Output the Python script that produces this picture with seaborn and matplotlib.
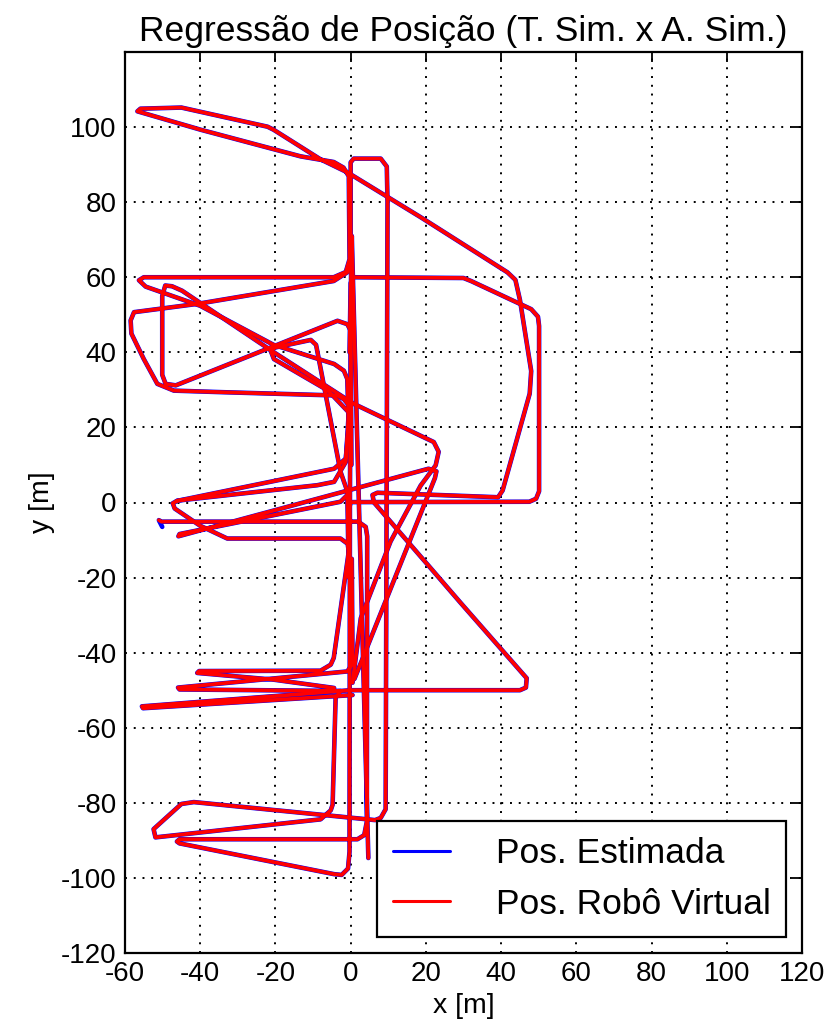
import numpy as np
import pandas as pd
import matplotlib
matplotlib.use("Agg")
import matplotlib.pyplot as plt
from matplotlib.lines import Line2D
import seaborn as sns

# trajectory, split into strokes (x, y in metres)
top_x = [-0.5, -0.9, -1.8, -4.4, -20.5, -40.0, -54.5, -56.3, -55.0, -4.5, -1.3, -0.3, -0.5, -1.9, -4.5,
         -13.3, -39.9, -56.7, -55.9, -45.0, -22.1, -20.5, -8.0, -0.8, 18.6, 41.7, 43.8, 45.0, 48.0, 47.6,
         40.4, 39.2, 7.1, 5.8, 6.2, 29.3, 46.8, 46.6, 45.0, 0.0, -55.5, -55.2, 0.5]
top_y = [20.0, 32.9, 35.1, 36.9, 42.0, 52.4, 57.5, 59.2, 60.0, 60.0, 61.4, 64.8, 86.9, 89.2, 90.7,
         92.2, 99.3, 104.2, 104.9, 105.2, 100.1, 99.3, 91.4, 87.9, 76.0, 61.3, 59.3, 54.0, 35.0, 29.0,
         3.2, 1.4, 2.6, 2.0, 0.0, -26.8, -46.8, -49.3, -50.0, -50.0, -54.3, -54.8, -51.3]

box_x = [-4.4, -20.4, -40.8, -40.3, -8.0, -5.3, -4.5, -0.5, -0.8, -2.7, -32.8, -40.0, -46.8, -47.3, -46.0,
         -8.9, -4.4, -1.3, -0.4, -1.8, -3.5, -34.6, -47.0, -51.4, -55.0, -58.3, -58.5, -57.6, -40.8, -4.5,
         -0.9, 0.0, 0.0, 0.8, 8.0, 9.6, 9.8, 9.3, 8.0, 6.5, -41.7, -45.0, -52.4, -51.9, -8.0, -5.3, -4.8,
         -4.0, -2.7, -45.5, -45.9, -0.9, 0.5, 0.3]
box_y = [-49.4, -47.2, -45.4, -44.9, -44.8, -43.2, -41.4, -13.0, -11.0, -9.6, -9.6, -6.2, -1.6, -0.2, 0.5,
         4.6, 5.5, 10.8, 25.8, 27.5, 28.5, 29.4, 29.8, 31.6, 38.2, 45.0, 48.5, 50.7, 52.9, 59.0,
         61.3, 63.0, 90.6, 91.6, 91.6, 89.5, 80.0, -81.7, -84.0, -84.6, -79.8, -80.3, -87.0, -89.2, -84.4, -82.0, -80.5,
         -52.0, -50.2, -49.8, -49.3, -45.0, -43.0, -15.0]

low_x = [-51.0, -50.3, 2.0, 4.0, 4.4, 4.3, 3.6, 1.8, -45.5, -46.2, -45.5, -4.4, -2.4, -0.7, -0.3,
         -0.2, 0.1, 0.3, 4.7]
low_y = [-4.7, -5.1, -5.1, -6.5, -9.0, -85.0, -88.6, -89.7, -89.7, -90.3, -90.8, -99.0, -99.2, -97.5, -93.0,
         0.0, 60.0, 71.0, -94.7]

fan_x = [-0.9, -2.7, -45.5, -45.8, 20.7, 22.8, 22.4, 1.0]
fan_y = [2.0, 0.2, -8.4, -9.0, 9.0, 8.3, 6.5, -47.0]

mid_x = [-0.4, -1.3, -4.4, -46.3]
mid_y = [22.0, 11.7, 9.0, 0.4]

inner_x = [0.2, 0.0, -0.9, -3.5, -22.0, -46.5, -49.2, -50.1, -50.1, -49.3, -47.5, -44.8, -20.4, 0.8,
           22.1, 23.4, 22.6, 18.6, 10.6, 2.7, 0.5]
inner_y = [10.0, 45.8, 47.5, 48.4, 41.0, 31.2, 31.6, 34.0, 55.0, 57.8, 57.6, 56.4, 40.0, 26.3,
           16.1, 13.5, 9.9, 4.5, -10.4, -30.8, -48.0]

hook_x = [-0.5, -6.0, -20.4, -21.3, -20.0, -10.6, -9.2, -2.7, -0.9, -0.5]
hook_y = [24.0, 29.8, 38.2, 40.5, 41.3, 43.3, 42.0, 8.2, 3.0, -20.0]

right_x = [-0.3, 0.0, 0.8, 30.0, 32.0, 48.0, 49.8, 50.1, 50.1, 49.3, 47.5, 0.0, -0.5]
right_y = [40.0, 58.5, 60.0, 59.8, 59.0, 51.5, 49.5, 47.0, 3.0, 1.0, 0.2, 0.1, -2.0]

# estimate starts with a small hook before the virtual robot path
est_start_x = [-50.1]
est_start_y = [-6.5]

strokes = [(top_x, top_y), (box_x, box_y), (low_x, low_y), (fan_x, fan_y),
           (mid_x, mid_y), (inner_x, inner_y), (hook_x, hook_y), (right_x, right_y)]


def to_frame(stroke_list):
    rows = []
    for i, (xs, ys) in enumerate(stroke_list):
        for xv, yv in zip(xs, ys):
            rows.append((i, xv, yv))
    return pd.DataFrame(rows, columns=["stroke", "x", "y"])


virtual = to_frame(strokes)
est_strokes = list(strokes)
est_strokes[2] = (est_start_x + low_x, est_start_y + low_y)
estimated = to_frame(est_strokes)

sns.set_style("white")
plt.rcParams["font.family"] = ["Liberation Sans", "DejaVu Sans"]
plt.rcParams["axes.unicode_minus"] = False
for key in ["text.color", "axes.labelcolor", "xtick.color", "ytick.color"]:
    plt.rcParams[key] = "black"

fig = plt.figure(figsize=(8.27, 10.32), dpi=100)
ax = fig.add_axes([125 / 827, 1 - 953 / 1032, (802 - 125) / 827, (953 - 52) / 1032])

sns.lineplot(data=estimated, x="x", y="y", units="stroke", estimator=None, sort=False,
             color="blue", linewidth=3.3, solid_joinstyle="round", ax=ax)
sns.lineplot(data=virtual, x="x", y="y", units="stroke", estimator=None, sort=False,
             color="red", linewidth=2.7, solid_joinstyle="round", ax=ax)

ax.set_xlim(-60, 120)
ax.set_ylim(-120, 120)
ax.set_xticks(np.arange(-60, 121, 20))
ax.set_yticks(np.arange(-120, 101, 20))
ax.grid(True, color="black", linestyle=(0, (1, 3.5)), linewidth=1.4)
ax.set_axisbelow(True)
ax.tick_params(direction="in", length=7, width=1.3, labelsize=20, top=True, right=True, pad=6)
for sp in ax.spines.values():
    sp.set_linewidth(1.6)
    sp.set_color("black")

ax.set_title("Regressão de Posição (T. Sim. x A. Sim.)", fontsize=25.5, pad=8)
ax.set_xlabel("x [m]", fontsize=20.5, labelpad=4)
ax.set_ylabel("y [m]", fontsize=20.5, labelpad=4)

handles = [Line2D([], [], color="blue", linewidth=2.2), Line2D([], [], color="red", linewidth=2.2)]
leg = ax.legend(handles, ["Pos. Estimada", "Pos. Robô Virtual"], loc="lower right",
                bbox_to_anchor=(0.977, 0.018), fontsize=25.5, fancybox=False, framealpha=1,
                edgecolor="black", handlelength=1.6, handletextpad=1.3, borderpad=0.45,
                labelspacing=0.5, borderaxespad=0)
leg.get_frame().set_linewidth(1.6)

fig.savefig("out.png", dpi=100)
